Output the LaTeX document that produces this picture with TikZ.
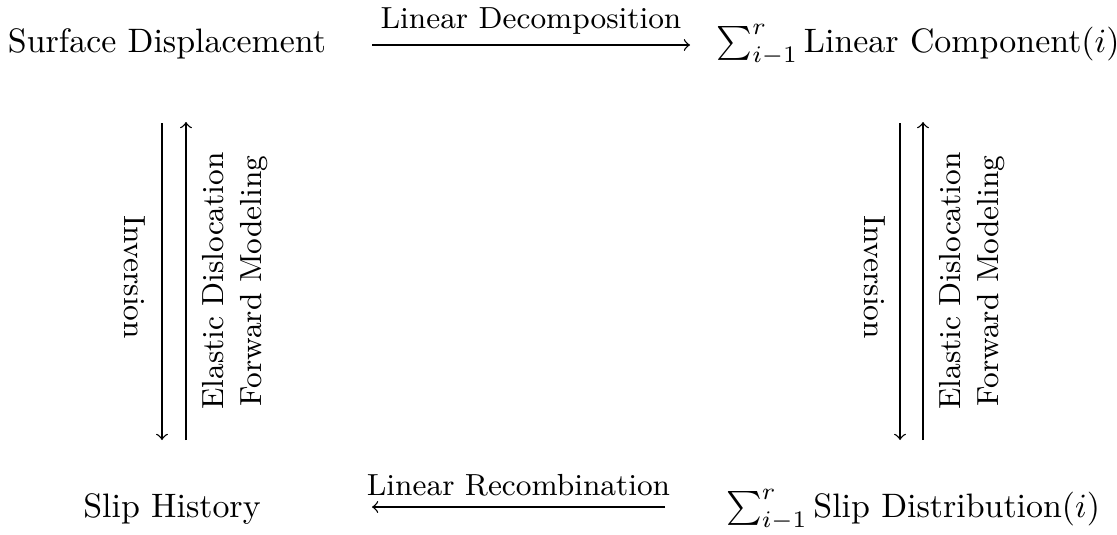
\documentclass[tikz,border=0pt]{standalone}
\usetikzlibrary{positioning}
\tikzstyle{ar}=[->, thin]
\tikzstyle{lbl}=[font=\small, inner sep=3pt]
\tikzstyle{vlbl}=[font=\small, align=center, inner sep=0pt]

\begin{document}
\begin{tikzpicture} [x=0.295pt, y=-0.295pt]
%%frame
\useasboundingbox (0,0) rectangle (1117,534);
%%corners
\node [anchor=base] (surf) at (167,52) {Surface Displacement};
\node [anchor=base] (comp) at (918,52) {$\sum_{i-1}^{r}$\,Linear Component$(i)$};
\node [anchor=base] (hist) at (172,517) {Slip History};
\node [anchor=base] (dist) at (913,517) {$\sum_{i-1}^{r}$\,Slip Distribution$(i)$};
%%ends
\coordinate (ta) at (372,45);
\coordinate (tb) at (690,45);
\coordinate (ba) at (665,507);
\coordinate (bb) at (372,507);
\coordinate (ldt) at (162,123);
\coordinate (ldb) at (162,440);
\coordinate (lut) at (186,122);
\coordinate (lub) at (186,440);
\coordinate (rdt) at (900,123);
\coordinate (rdb) at (900,440);
\coordinate (rut) at (923,122);
\coordinate (rub) at (923,440);
%%horizontal
\draw [ar] (ta) -- node[lbl, above] {Linear Decomposition} (tb);
\draw [ar] (ba) -- node[lbl, above] {Linear Recombination} (bb);
%%left
\draw [ar] (ldt) -- (ldb);
\draw [ar] (lub) -- (lut);
\node [vlbl, rotate=-90] (linv) at (135,277) {Inversion};
\node [vlbl, rotate=90] (lfwd) at (235,281) {Elastic Dislocation\\Forward Modeling};
%%right
\draw [ar] (rdt) -- (rdb);
\draw [ar] (rub) -- (rut);
\node [vlbl, rotate=-90] (rinv) at (875,277) {Inversion};
\node [vlbl, rotate=90] (rfwd) at (972,281) {Elastic Dislocation\\Forward Modeling};
\end{tikzpicture}
\end{document}
